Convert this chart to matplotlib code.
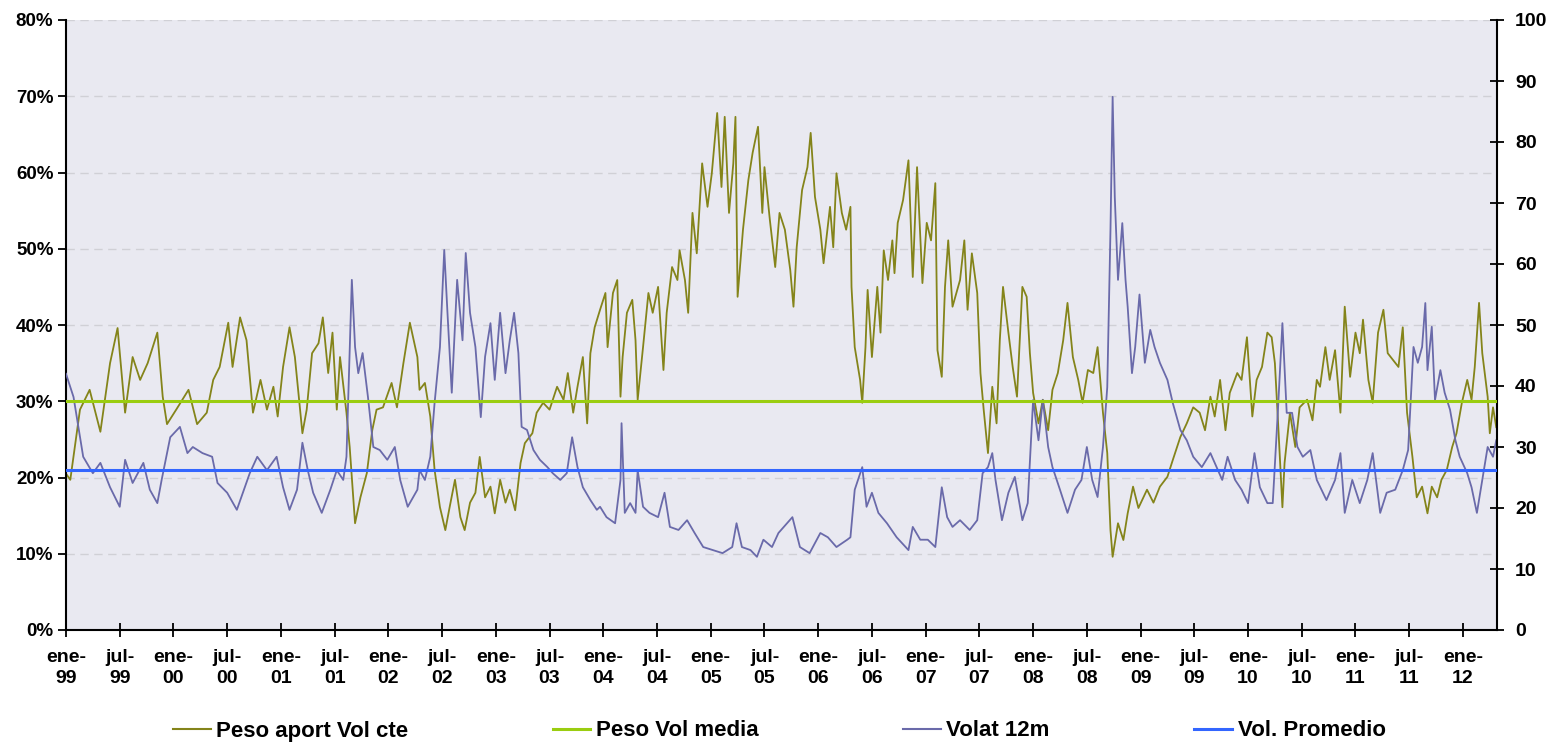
import matplotlib
matplotlib.use("Agg")
import matplotlib.pyplot as plt
from matplotlib.lines import Line2D

# ---------------- data ----------------
# Peso aport Vol cte (left axis, %), time as decimal year
peso_t = [1999.00, 1999.04, 1999.13, 1999.22, 1999.32, 1999.41, 1999.48, 1999.55, 1999.62, 1999.69,
          1999.76, 1999.85, 1999.90, 1999.94, 2000.03, 2000.14, 2000.22, 2000.31, 2000.37, 2000.43,
          2000.51, 2000.55, 2000.62, 2000.68, 2000.74, 2000.81, 2000.87, 2000.93, 2000.97, 2001.02,
          2001.08, 2001.13, 2001.20, 2001.24, 2001.29, 2001.35, 2001.39, 2001.44, 2001.48, 2001.52,
          2001.55, 2001.61, 2001.64, 2001.69, 2001.74, 2001.80, 2001.85, 2001.89, 2001.95, 2002.03,
          2002.08, 2002.14, 2002.20, 2002.27, 2002.29, 2002.34, 2002.39, 2002.43, 2002.48, 2002.53,
          2002.57, 2002.62, 2002.67, 2002.71, 2002.76, 2002.81, 2002.85, 2002.90, 2002.95, 2002.99,
          2003.04, 2003.09, 2003.13, 2003.18, 2003.23, 2003.27, 2003.34, 2003.38, 2003.44, 2003.50,
          2003.57, 2003.63, 2003.67, 2003.72, 2003.76, 2003.81, 2003.85, 2003.88, 2003.92, 2003.97,
          2004.02, 2004.04, 2004.09, 2004.13, 2004.16, 2004.18, 2004.22, 2004.27, 2004.30, 2004.32,
          2004.37, 2004.42, 2004.46, 2004.51, 2004.56, 2004.59, 2004.64, 2004.69, 2004.71, 2004.76,
          2004.79, 2004.83, 2004.87, 2004.92, 2004.97, 2005.01, 2005.06, 2005.10, 2005.13, 2005.17,
          2005.21, 2005.23, 2005.25, 2005.30, 2005.35, 2005.39, 2005.44, 2005.48, 2005.50, 2005.55,
          2005.60, 2005.64, 2005.69, 2005.74, 2005.77, 2005.80, 2005.85, 2005.90, 2005.93, 2005.97,
          2006.02, 2006.05, 2006.11, 2006.14, 2006.17, 2006.22, 2006.26, 2006.30, 2006.31, 2006.34,
          2006.39, 2006.41, 2006.44, 2006.46, 2006.50, 2006.55, 2006.58, 2006.61, 2006.65, 2006.69,
          2006.71, 2006.74, 2006.79, 2006.84, 2006.88, 2006.92, 2006.97, 2007.01, 2007.05, 2007.09,
          2007.11, 2007.15, 2007.18, 2007.21, 2007.25, 2007.32, 2007.36, 2007.39, 2007.43, 2007.48,
          2007.51, 2007.54, 2007.58, 2007.62, 2007.66, 2007.69, 2007.72, 2007.77, 2007.81, 2007.85,
          2007.90, 2007.94, 2007.97, 2008.00, 2008.05, 2008.09, 2008.14, 2008.18, 2008.23, 2008.28,
          2008.32, 2008.37, 2008.42, 2008.46, 2008.51, 2008.56, 2008.60, 2008.65, 2008.69, 2008.72,
          2008.74, 2008.79, 2008.84, 2008.88, 2008.93, 2008.98, 2009.06, 2009.12, 2009.18, 2009.25,
          2009.30, 2009.37, 2009.43, 2009.49, 2009.55, 2009.60, 2009.65, 2009.69, 2009.74, 2009.79,
          2009.83, 2009.90, 2009.94, 2009.99, 2010.04, 2010.08, 2010.13, 2010.18, 2010.22, 2010.25,
          2010.28, 2010.32, 2010.34, 2010.39, 2010.44, 2010.48, 2010.55, 2010.60, 2010.64, 2010.67,
          2010.72, 2010.76, 2010.81, 2010.86, 2010.90, 2010.95, 2011.00, 2011.04, 2011.07, 2011.12,
          2011.16, 2011.21, 2011.26, 2011.30, 2011.35, 2011.40, 2011.44, 2011.48, 2011.53, 2011.57,
          2011.62, 2011.67, 2011.71, 2011.76, 2011.80, 2011.85, 2011.90, 2011.94, 2011.99, 2012.04,
          2012.08, 2012.11, 2012.15, 2012.18, 2012.23, 2012.25, 2012.28, 2012.31]
peso_val = [20.5, 19.7, 28.9, 31.5, 26.0, 35.0, 39.6, 28.5, 35.8, 32.8,
            35.0, 39.0, 30.6, 27.0, 29.0, 31.5, 27.0, 28.5, 32.8, 34.5,
            40.3, 34.5, 41.0, 38.0, 28.5, 32.8, 28.9, 31.9, 28.0, 34.5,
            39.7, 35.8, 25.8, 28.9, 36.3, 37.6, 41.0, 33.7, 39.0, 28.9,
            35.8, 28.5, 24.0, 14.0, 17.4, 20.6, 26.2, 28.9, 29.2, 32.4,
            29.2, 35.0, 40.3, 35.8, 31.5, 32.4, 28.0, 21.0, 16.1, 13.1,
            16.1, 19.7, 14.8, 13.1, 16.7, 18.0, 22.7, 17.4, 18.8, 15.3,
            19.7, 16.7, 18.4, 15.7, 21.9, 24.5, 25.8, 28.5, 29.8, 28.9,
            31.9, 30.2, 33.7, 28.5, 31.9, 35.8, 27.1, 36.3, 39.7, 42.0,
            44.2, 37.1, 44.2, 45.9, 30.6, 35.8, 41.6, 43.3, 38.0, 30.2,
            37.1, 44.2, 41.6, 45.0, 34.1, 41.6, 47.6, 45.9, 49.8, 45.9,
            41.6, 54.7, 49.4, 61.2, 55.5, 59.9, 67.8, 58.1, 67.3, 54.7,
            61.2, 67.3, 43.7, 52.5, 59.0, 62.6, 66.0, 54.7, 60.7, 53.8,
            47.6, 54.7, 52.5, 47.2, 42.4, 50.2, 57.7, 60.7, 65.2, 56.8,
            52.5, 48.1, 55.5, 50.2, 59.9, 54.7, 52.5, 55.5, 45.0, 37.1,
            32.8, 29.8, 37.1, 44.6, 35.8, 45.0, 39.0, 49.8, 45.9, 51.1,
            46.8, 53.4, 56.4, 61.6, 46.3, 60.7, 45.5, 53.4, 51.1, 58.6,
            36.7, 33.2, 45.0, 51.1, 42.4, 45.9, 51.1, 42.0, 49.4, 44.2,
            33.7, 28.9, 23.2, 31.9, 27.1, 38.0, 45.0, 39.0, 34.5, 30.6,
            45.0, 43.7, 36.3, 31.1, 27.1, 30.2, 26.2, 31.5, 33.7, 38.0,
            42.9, 35.8, 32.8, 29.8, 34.1, 33.7, 37.1, 28.5, 23.2, 13.1,
            9.6, 14.0, 11.8, 15.3, 18.8, 16.0, 18.4, 16.7, 18.8, 20.1,
            22.3, 25.3, 27.1, 29.2, 28.5, 26.2, 30.6, 28.0, 32.8, 26.2,
            31.1, 33.7, 32.8, 38.4, 28.0, 32.8, 34.5, 39.0, 38.4, 35.0,
            27.1, 16.1, 21.9, 28.5, 24.0, 29.2, 30.2, 27.5, 32.8, 31.9,
            37.1, 32.8, 36.7, 28.5, 42.4, 33.2, 39.0, 36.3, 40.7, 32.8,
            29.8, 39.0, 42.0, 36.3, 35.4, 34.5, 39.7, 28.5, 22.7, 17.4,
            18.8, 15.3, 18.8, 17.4, 19.7, 21.0, 24.0, 25.8, 29.8, 32.8,
            30.2, 34.5, 42.9, 36.3, 30.6, 25.8, 29.2, 26.6]

# Volat 12m (right axis)
vol_t = [1999.00, 1999.07, 1999.16, 1999.25, 1999.32, 1999.41, 1999.50, 1999.55, 1999.62, 1999.72,
         1999.78, 1999.85, 1999.89, 1999.97, 2000.06, 2000.13, 2000.18, 2000.27, 2000.36, 2000.41,
         2000.50, 2000.59, 2000.71, 2000.78, 2000.87, 2000.96, 2001.02, 2001.08, 2001.15, 2001.20,
         2001.25, 2001.30, 2001.38, 2001.46, 2001.52, 2001.58, 2001.61, 2001.66, 2001.69, 2001.72,
         2001.76, 2001.81, 2001.86, 2001.92, 2001.99, 2002.06, 2002.11, 2002.18, 2002.27, 2002.29,
         2002.34, 2002.39, 2002.43, 2002.48, 2002.52, 2002.55, 2002.59, 2002.64, 2002.69, 2002.72,
         2002.76, 2002.81, 2002.86, 2002.90, 2002.95, 2002.99, 2003.04, 2003.09, 2003.13, 2003.17,
         2003.21, 2003.24, 2003.29, 2003.35, 2003.41, 2003.48, 2003.53, 2003.60, 2003.66, 2003.71,
         2003.76, 2003.81, 2003.88, 2003.94, 2003.97, 2004.03, 2004.11, 2004.16, 2004.17, 2004.20,
         2004.25, 2004.30, 2004.32, 2004.37, 2004.43, 2004.51, 2004.57, 2004.62, 2004.70, 2004.78,
         2004.85, 2004.93, 2005.02, 2005.11, 2005.20, 2005.24, 2005.29, 2005.37, 2005.43, 2005.49,
         2005.57, 2005.63, 2005.76, 2005.83, 2005.92, 2006.02, 2006.09, 2006.17, 2006.27, 2006.30,
         2006.34, 2006.41, 2006.45, 2006.50, 2006.56, 2006.64, 2006.73, 2006.84, 2006.88, 2006.95,
         2007.02, 2007.09, 2007.15, 2007.20, 2007.25, 2007.32, 2007.41, 2007.48, 2007.53, 2007.58,
         2007.62, 2007.65, 2007.71, 2007.77, 2007.83, 2007.90, 2007.95, 2008.00, 2008.05, 2008.09,
         2008.14, 2008.18, 2008.25, 2008.32, 2008.39, 2008.45, 2008.50, 2008.55, 2008.60, 2008.65,
         2008.69, 2008.72, 2008.74, 2008.76, 2008.79, 2008.83, 2008.86, 2008.88, 2008.92, 2008.95,
         2008.99, 2009.04, 2009.09, 2009.13, 2009.18, 2009.25, 2009.30, 2009.37, 2009.43, 2009.49,
         2009.57, 2009.65, 2009.69, 2009.76, 2009.81, 2009.88, 2009.94, 2010.00, 2010.06, 2010.11,
         2010.18, 2010.23, 2010.28, 2010.32, 2010.36, 2010.41, 2010.46, 2010.51, 2010.58, 2010.64,
         2010.73, 2010.81, 2010.86, 2010.90, 2010.97, 2011.04, 2011.11, 2011.16, 2011.23, 2011.29,
         2011.37, 2011.44, 2011.49, 2011.54, 2011.58, 2011.62, 2011.65, 2011.67, 2011.71, 2011.74,
         2011.79, 2011.83, 2011.88, 2011.93, 2011.97, 2012.04, 2012.08, 2012.13, 2012.18, 2012.23,
         2012.28, 2012.31]
vol_val = [42.0, 38.2, 28.4, 25.7, 27.4, 23.4, 20.2, 27.9, 24.1, 27.4,
           23.0, 20.8, 24.6, 31.6, 33.3, 29.0, 30.0, 29.0, 28.4, 24.1,
           22.5, 19.7, 25.7, 28.4, 26.2, 28.4, 23.4, 19.7, 23.0, 30.7,
           26.2, 22.5, 19.2, 23.0, 26.2, 24.6, 28.4, 57.4, 46.4, 42.1,
           45.4, 38.2, 30.0, 29.5, 27.9, 30.0, 24.6, 20.2, 23.0, 26.2,
           24.6, 28.4, 37.2, 46.4, 62.3, 52.0, 38.9, 57.4, 47.5, 61.8,
           52.0, 46.4, 34.9, 44.8, 50.3, 41.0, 52.0, 42.1, 47.5, 52.0,
           45.4, 33.3, 32.8, 29.5, 27.9, 26.7, 25.7, 24.6, 25.7, 31.6,
           26.7, 23.4, 21.3, 19.7, 20.2, 18.5, 17.5, 24.6, 33.9, 19.2,
           20.8, 19.2, 26.2, 20.2, 19.2, 18.5, 22.5, 16.9, 16.4, 18.0,
           15.9, 13.6, 13.1, 12.6, 13.6, 17.5, 13.6, 13.1, 12.0, 14.8,
           13.6, 15.9, 18.5, 13.6, 12.6, 15.9, 15.2, 13.6, 14.8, 15.2,
           23.0, 26.7, 20.2, 22.5, 19.2, 17.5, 15.2, 13.1, 16.9, 14.8,
           14.8, 13.6, 23.4, 18.5, 16.9, 18.0, 16.4, 18.0, 25.7, 26.7,
           29.0, 24.6, 18.0, 22.5, 25.1, 18.0, 20.8, 37.7, 31.1, 37.7,
           30.0, 26.7, 23.0, 19.2, 23.0, 24.6, 30.0, 24.6, 21.8, 30.0,
           39.8, 65.6, 87.4, 71.0, 57.4, 66.7, 57.4, 53.0, 42.1, 46.4,
           55.0, 43.8, 49.2, 46.4, 43.8, 41.0, 37.2, 32.8, 31.1, 28.4,
           26.7, 29.0, 27.4, 24.6, 28.4, 24.6, 23.0, 20.8, 29.0, 23.4,
           20.8, 20.8, 36.6, 50.3, 35.6, 35.6, 30.0, 28.4, 29.5, 24.6,
           21.3, 24.6, 29.0, 19.2, 24.6, 20.8, 24.6, 29.0, 19.2, 22.5,
           23.0, 26.2, 29.5, 46.4, 43.8, 46.4, 53.6, 42.6, 49.7, 37.7,
           42.6, 38.9, 36.1, 31.1, 28.4, 25.7, 23.4, 19.2, 24.6, 30.0,
           28.4, 31.1]

peso_vol_media = 30.0      # % (left axis)
vol_promedio = 26.2        # (right axis)

tick_years = [1999.0, 1999.5, 2000.0, 2000.5, 2001.0, 2001.5, 2002.0, 2002.5, 2003.0, 2003.5,
              2004.0, 2004.5, 2005.0, 2005.5, 2006.0, 2006.5, 2007.0, 2007.5, 2008.0, 2008.5,
              2009.0, 2009.5, 2010.0, 2010.5, 2011.0, 2011.5, 2012.0]
tick_labels = ["ene-\n99", "jul-\n99", "ene-\n00", "jul-\n00", "ene-\n01", "jul-\n01", "ene-\n02",
               "jul-\n02", "ene-\n03", "jul-\n03", "ene-\n04", "jul-\n04", "ene-\n05", "jul-\n05",
               "ene-\n06", "jul-\n06", "ene-\n07", "jul-\n07", "ene-\n08", "jul-\n08", "ene-\n09",
               "jul-\n09", "ene-\n10", "jul-\n10", "ene-\n11", "jul-\n11", "ene-\n12"]
left_ticks = [0, 10, 20, 30, 40, 50, 60, 70, 80]
left_labels = ["0%", "10%", "20%", "30%", "40%", "50%", "60%", "70%", "80%"]
right_ticks = [0, 10, 20, 30, 40, 50, 60, 70, 80, 90, 100]

series_names = ["Peso aport Vol cte", "Peso Vol media", "Volat 12m", "Vol. Promedio"]

# ---------------- style ----------------
plt.rcParams['font.family'] = ['Liberation Sans', 'DejaVu Sans']
C_PESO = '#84841a'
C_MEDIA = '#9acd10'
C_VOL = '#6a6aaa'
C_PROM = '#3366ff'

fig = plt.figure(figsize=(15.49, 7.44), dpi=100)
ax = fig.add_axes([66/1549, 1-630/744, (1497-66)/1549, (630-20)/744])
ax2 = ax.twinx()

ax.set_facecolor('#e9e9f1')
x0, x1 = 1999.0, 2012.317
ax.set_xlim(x0, x1)
ax.set_ylim(0, 80)
ax2.set_ylim(0, 100)

# gridlines
for v in left_ticks[1:]:
    ax.axhline(v, color='#d0d0d6', lw=1.0, ls=(0, (6, 4)), zorder=0.5)

ax.plot(peso_t, peso_val, color=C_PESO, lw=1.3, zorder=2)
ax2.plot(vol_t, vol_val, color=C_VOL, lw=1.3, zorder=2)
ax2.plot([x0, x1], [peso_vol_media, peso_vol_media], color=C_MEDIA, lw=2.2,
         transform=ax.transData, zorder=3)
ax2.plot([x0, x1], [vol_promedio, vol_promedio], color=C_PROM, lw=2.2, zorder=3)
ax2.set_xlim(x0, x1)

# axes styling
for a in (ax, ax2):
    a.spines['top'].set_visible(False)
ax.spines['right'].set_visible(False)
ax2.spines['left'].set_visible(False)
ax2.spines['bottom'].set_visible(False)
for sp in ('left', 'bottom'):
    ax.spines[sp].set_linewidth(1.5)
ax2.spines['right'].set_linewidth(1.5)

ax.set_xticks(tick_years)
ax.set_xticklabels(tick_labels, fontsize=14, fontweight='bold', linespacing=1.3)
ax.tick_params(axis='x', direction='inout', length=10, width=1.3, pad=9)
ax.set_yticks(left_ticks)
ax.set_yticklabels(left_labels, fontsize=13.5, fontweight='bold')
ax.tick_params(axis='y', direction='out', length=6, width=1.3, pad=3)
ax2.set_yticks(right_ticks)
ax2.set_yticklabels([str(v) for v in right_ticks], fontsize=14, fontweight='bold')
ax2.tick_params(axis='y', direction='inout', length=10, width=1.3, pad=8)

handles = [Line2D([], [], color=C_PESO, lw=1.5),
           Line2D([], [], color=C_MEDIA, lw=2.2),
           Line2D([], [], color=C_VOL, lw=1.5),
           Line2D([], [], color=C_PROM, lw=2.2)]
fig.legend(handles, series_names, loc='center', bbox_to_anchor=(0.503, 1-731/744), ncol=4,
           frameon=False, prop={'size': 16, 'weight': 'bold'}, handlelength=1.7,
           handletextpad=0.25, columnspacing=6.5)

fig.savefig('out.png', dpi=100, facecolor='white')
